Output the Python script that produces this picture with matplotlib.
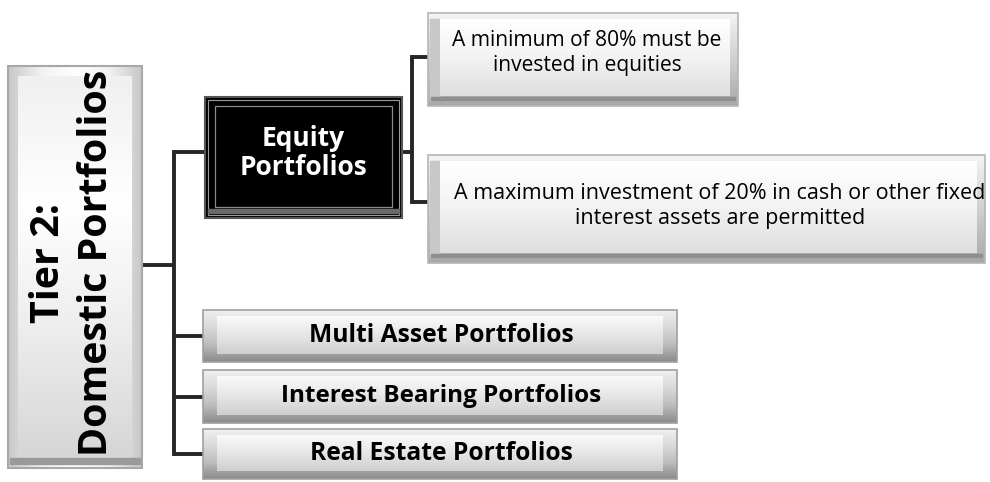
import numpy as np
import matplotlib
matplotlib.use("Agg")
import matplotlib.pyplot as plt
from matplotlib.patches import Rectangle
from matplotlib.colors import LinearSegmentedColormap

# ---- content ----
root_label = "Tier 2:\nDomestic Portfolios"
equity_label = "Equity\nPortfolios"
equity_rules = ["A minimum of 80% must be\ninvested in equities",
                "A maximum investment of 20% in cash or other fixed\ninterest assets are permitted"]
other_portfolios = ["Multi Asset Portfolios", "Interest Bearing Portfolios", "Real Estate Portfolios"]

FONT = ["Open Sans", "DejaVu Sans"]
W, H = 990, 482
fig = plt.figure(figsize=(9.9, 4.82), dpi=100)
ax = fig.add_axes([0, 0, 1, 1])
ax.set_xlim(0, W)
ax.set_ylim(H, 0)
ax.axis("off")


def gradient(x, y, w, h, colors, horizontal=False, z=2):
    n = 200
    arr = np.linspace(0, 1, n)
    arr = arr[None, :] if horizontal else arr[:, None]
    cmap = LinearSegmentedColormap.from_list("g", colors)
    ax.imshow(arr, cmap=cmap, extent=(x, x + w, y + h, y), aspect="auto",
              zorder=z, interpolation="bilinear")


def light_box(x, y, w, h, z=2):
    gradient(x, y, w, h, ["#f4f4f4", "#d0d0d0", "#a8a8a8"], z=z)
    ax.add_patch(Rectangle((x, y), w, h, fill=False, ec="#b5b5b5", lw=1.2, zorder=z + 0.5))
    gradient(x + 12, y + 6, w - 20, h - 16, ["#ffffff", "#f3f3f3", "#dedede"], z=z + 0.2)
    ax.add_patch(Rectangle((x + 2, y + 6), 10, h - 12, color="#c8c8c8", zorder=z + 0.1))
    ax.add_patch(Rectangle((x + 3, y + h - 9), w - 6, 3, color="#8f8f8f", zorder=z + 0.3))


def bar_box(x, y, w, h, z=2):
    gradient(x, y, w, h, ["#f0f0f0", "#d9d9d9", "#bdbdbd", "#8a8a8a"], z=z)
    gradient(x + 14, y + 6, w - 28, h - 14, ["#fafafa", "#e6e6e6", "#cfcfcf"], z=z + 0.2)
    ax.add_patch(Rectangle((x, y), w, h, fill=False, ec="#a0a0a0", lw=1.2, zorder=z + 0.5))


def root_box(x, y, w, h, z=2):
    gradient(x, y, w, h, ["#c8c8c8", "#f2f2f2", "#ffffff", "#f2f2f2", "#c8c8c8"], horizontal=True, z=z)
    gradient(x + 10, y + 10, w - 20, h - 20, ["#f0f0f0", "#ffffff", "#ededed", "#d6d6d6"], z=z + 0.1)
    ax.add_patch(Rectangle((x, y), w, h, fill=False, ec="#a8a8a8", lw=1.5, zorder=z + 0.5))
    ax.add_patch(Rectangle((x + 2, y + h - 10), w - 4, 6, color="#9a9a9a", zorder=z + 0.3))


def dark_box(x, y, w, h, z=2):
    ax.add_patch(Rectangle((x, y), w, h, fc="#000000", ec="#555555", lw=1.5, zorder=z))
    ax.add_patch(Rectangle((x + 3, y + 3), w - 6, h - 6, fill=False, ec="#9a9a9a", lw=0.8, zorder=z + 0.1))
    ax.add_patch(Rectangle((x + 10, y + 9), w - 20, h - 20, fill=False, ec="#8a8a8a", lw=0.9, zorder=z + 0.2))
    ax.add_patch(Rectangle((x + 3, y + h - 9), w - 6, 4, color="#6a6a6a", zorder=z + 0.15))


# ---- layout ----
root_xywh = (8, 66, 134, 402)
equity_xywh = (205, 97, 197, 121)
rule_xywh = [(428, 13, 310, 93), (428, 155, 557, 108)]
other_xywh = [(203, 310, 474, 52), (203, 370, 474, 53), (203, 429, 474, 50)]

root_box(*root_xywh)
dark_box(*equity_xywh)
for r in rule_xywh:
    light_box(*r)
for r in other_xywh:
    bar_box(*r)

# ---- connectors ----
LC, LW = "#262626", 2.8
root_y = 265
trunk_x = 174
eq_y = equity_xywh[1] + equity_xywh[3] / 2 - 6
branch_ys = [eq_y] + [r[1] + r[3] / 2 for r in other_xywh]
ax.plot([root_xywh[0] + root_xywh[2], trunk_x], [root_y, root_y], color=LC, lw=LW, zorder=1, solid_capstyle="butt")
ax.plot([trunk_x, trunk_x], [min(branch_ys), max(branch_ys)], color=LC, lw=LW, zorder=1, solid_capstyle="projecting")
for by, bx in zip(branch_ys, [equity_xywh[0]] + [r[0] for r in other_xywh]):
    ax.plot([trunk_x, bx + 3], [by, by], color=LC, lw=LW, zorder=1, solid_capstyle="butt")

trunk2_x = 412
rule_ys = [57, 202]
ax.plot([equity_xywh[0] + equity_xywh[2], trunk2_x], [eq_y, eq_y], color=LC, lw=LW, zorder=1, solid_capstyle="butt")
ax.plot([trunk2_x, trunk2_x], rule_ys, color=LC, lw=LW, zorder=1, solid_capstyle="projecting")
for ry, r in zip(rule_ys, rule_xywh):
    ax.plot([trunk2_x, r[0] + 4], [ry, ry], color=LC, lw=LW, zorder=1, solid_capstyle="butt")

# ---- texts (fitted to target extents) ----
fig.canvas.draw()
renderer = fig.canvas.get_renderer()


def fit_text(x, y, s, target, color="black", weight="normal", rotation=0, ls=1.15):
    t = ax.text(x, y, s, ha="center", va="center", color=color, fontweight=weight,
                rotation=rotation, family=FONT, fontsize=12, linespacing=ls,
                multialignment="center", zorder=10)
    bb = t.get_window_extent(renderer)
    size = bb.height if rotation else bb.width
    t.set_fontsize(12 * target / size)
    return t


fit_text(73, 263, root_label, 386, weight="bold", rotation=90, ls=1.3)
fit_text(303, 153, equity_label, 128, color="white", weight="bold", ls=1.1)
fit_text(587, 53, equity_rules[0], 270, ls=1.25)
fit_text(720, 206, equity_rules[1], 528, ls=1.25)
for s, r, tw in zip(other_portfolios, other_xywh, [265, 320, 262]):
    fit_text(441, r[1] + r[3] / 2 - 1, s, tw, weight="bold")

fig.savefig("out.png", dpi=100)
